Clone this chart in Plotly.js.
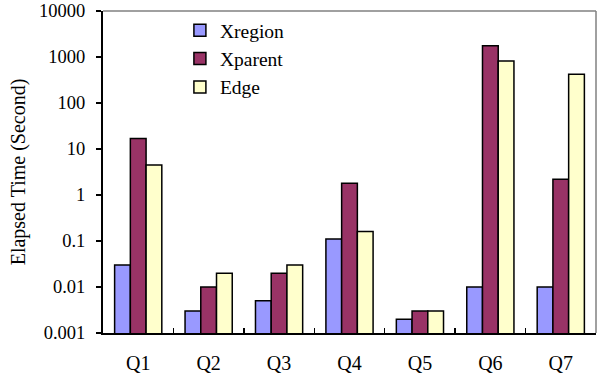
<!DOCTYPE html>
<html>
<head>
<meta charset="utf-8">
<script src="https://cdn.plot.ly/plotly-3.0.1.min.js"></script>
<style>
  html, body { margin: 0; padding: 0; background: #fff; }
  #chart { width: 600px; height: 377px; }
</style>
</head>
<body>
<div id="chart"></div>
<script>
// Query names
const queries = ["Q1", "Q2", "Q3", "Q4", "Q5", "Q6", "Q7"];

// Elapsed time in seconds per method
const xregion = [0.03, 0.003, 0.005, 0.11, 0.002, 0.01, 0.01];
const xparent = [17, 0.01, 0.02, 1.8, 0.003, 1750, 2.2];
const edge    = [4.5, 0.02, 0.03, 0.16, 0.003, 820, 420];

// Log-axis tick labels
const yTickVals = [0.001, 0.01, 0.1, 1, 10, 100, 1000, 10000];
const yTickText = ["0.001", "0.01", "0.1", "1", "10", "100", "1000", "10000"];

const serif = "'Times New Roman', 'Liberation Serif', Tinos, 'DejaVu Serif', serif";

function series(name, values, color) {
  return {
    type: "bar",
    name: name,
    x: queries,
    y: values,
    marker: { color: color, line: { color: "#000000", width: 1.5 } },
    hoverinfo: "x+y+name"
  };
}

const data = [
  series("Xregion", xregion, "#9999FF"),
  series("Xparent", xparent, "#993366"),
  series("Edge", edge, "#FFFFCC")
];

const layout = {
  width: 600,
  height: 377,
  margin: { l: 103, r: 4, t: 11, b: 44 },
  paper_bgcolor: "#ffffff",
  plot_bgcolor: "#ffffff",
  barmode: "group",
  bargap: 0.33,
  bargroupgap: 0,
  font: { family: serif, size: 18, color: "#000000" },
  showlegend: true,
  legend: {
    x: 0.156, y: 1.0, xanchor: "left", yanchor: "top",
    bgcolor: "rgba(0,0,0,0)",
    font: { family: serif, size: 19.5, color: "#000000" },
    tracegroupgap: 0,
    itemwidth: 30
  },
  xaxis: {
    type: "category",
    showline: true, linecolor: "#000000", linewidth: 2,
    ticks: "inside", tickson: "boundaries", ticklen: 5, tickcolor: "#000000", tickwidth: 1.5,
    ticklabelstandoff: 11,
    tickfont: { family: serif, size: 20, color: "#000000" },
    showgrid: false, zeroline: false
  },
  yaxis: {
    type: "log",
    range: [-3, 4],
    tickvals: yTickVals,
    ticktext: yTickText,
    showline: true, linecolor: "#000000", linewidth: 2,
    ticks: "outside", ticklen: 5, tickcolor: "#000000", tickwidth: 1.5,
    ticklabelstandoff: 7,
    tickfont: { family: serif, size: 18.5, color: "#000000" },
    showgrid: false, zeroline: false,
    title: { text: "Elapsed Time (Second)", font: { family: serif, size: 20, color: "#000000" }, standoff: 8 }
  },
  shapes: [
    { type: "line", xref: "paper", yref: "paper", x0: 0, x1: 1, y0: 1, y1: 1,
      line: { color: "#808080", width: 1.5 }, layer: "below" },
    { type: "line", xref: "paper", yref: "paper", x0: 1, x1: 1, y0: 0, y1: 1,
      line: { color: "#808080", width: 1.5 }, layer: "below" }
  ]
};

Plotly.newPlot("chart", data, layout, { displayModeBar: false, staticPlot: true });
</script>
</body>
</html>
